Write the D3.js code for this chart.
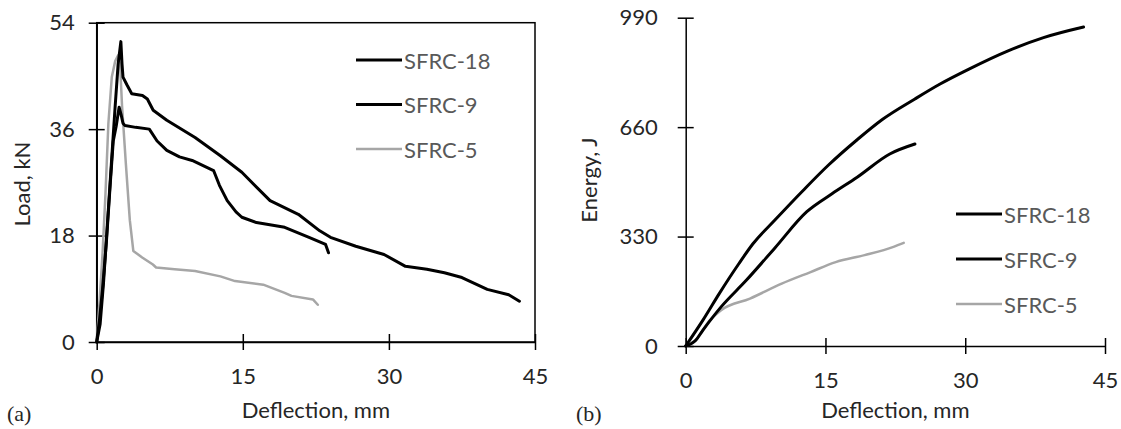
<!DOCTYPE html>
<html>
<head>
<meta charset="utf-8">
<script src="https://cdn.jsdelivr.net/npm/d3@7"></script>
<style>
  html, body { margin: 0; padding: 0; background: #fff; }
  svg text { font-family: Lato, "Open Sans", sans-serif; }
</style>
</head>
<body>
<svg id="chart" width="1121" height="429"></svg>
<script>
// ---------- data ----------
const seriesNames = ["SFRC-18", "SFRC-9", "SFRC-5"];

// (a) Load (kN) vs deflection (mm)
const loadDefl18 = [0, 0.35, 0.7, 1.1, 1.5, 1.9, 2.2, 2.48, 2.6, 2.7, 3.1, 3.6, 4.7, 5.2, 5.8, 7.2, 10.1, 12.7, 14.9, 17.8, 20.7, 22.9, 24.0, 26.6, 29.5, 31.7, 33.9, 35.7, 37.5, 40.1, 42.3, 43.4];
const load18     = [0, 3, 10, 20, 30, 40, 47, 50.8, 47, 44.8, 43.5, 42, 41.7, 41.1, 39.2, 37.5, 34.6, 31.5, 28.7, 23.9, 21.6, 18.8, 17.7, 16.2, 14.8, 12.8, 12.3, 11.7, 10.9, 8.9, 8.0, 6.9];

const loadDefl9 = [0, 0.3, 0.6, 1.0, 1.4, 1.7, 2.0, 2.3, 2.5, 2.7, 2.9, 4.0, 5.4, 6.2, 7.2, 8.5, 9.8, 12.0, 12.6, 13.4, 14.3, 14.9, 16.4, 19.3, 21.8, 23.5, 23.8];
const load9     = [0, 4, 9, 17, 27, 34, 36.5, 39.7, 38.5, 37, 36.6, 36.3, 36, 34, 32.4, 31.3, 30.7, 29, 26.5, 23.9, 22, 21.1, 20.2, 19.4, 17.7, 16.5, 15.1];

const loadDefl5 = [0, 0.3, 0.6, 0.9, 1.2, 1.55, 1.9, 2.2, 2.4, 2.6, 3.0, 3.4, 3.76, 4.67, 5.77, 6.1, 8.0, 10.1, 12.7, 14.2, 17.1, 19.3, 20.0, 22.2, 22.7];
const load5     = [0, 7, 15, 25, 37, 44.8, 47.5, 48.5, 47, 40, 30, 20.6, 15.4, 14.3, 13.1, 12.6, 12.3, 12, 11.1, 10.3, 9.7, 8.3, 7.8, 7.2, 6.3];

// (b) Energy (J) vs deflection (mm)
const enDefl18 = [0, 1.85, 3.6, 5.7, 7.24, 9.55, 12.6, 15.3, 18.4, 21.1, 24.6, 27.3, 30.4, 34.6, 38.4, 42.7];
const energy18 = [0, 78, 158, 248, 309, 379, 469, 545, 622, 683, 745, 790, 835, 890, 930, 962];

const enDefl9 = [0, 1.0, 1.85, 3.8, 6.5, 9.55, 13.0, 15.7, 18.4, 21.9, 24.6];
const energy9 = [0, 15, 48, 118, 198, 295, 405, 459, 509, 579, 609];

const enDefl5 = [0, 1.08, 2.6, 3.8, 6.9, 10.3, 13.4, 16.1, 19.2, 22.3, 23.4];
const energy5 = [0, 18, 78, 108, 143, 188, 223, 253, 274, 299, 311];

const xTicks = [0, 15, 30, 45];
const loadTicks = [0, 18, 36, 54];
const energyTicks = [0, 330, 660, 990];

// ---------- drawing ----------
const svg = d3.select("#chart");
const colors = ["#000000", "#000000", "#a6a6a6"];
const widths = [3, 3, 2.5];
const textColor = "#262626";
const fs = 22;

function panel(opt) {
  const x = d3.scaleLinear().domain([0, 45]).range([opt.x0, opt.x1]);
  const y = d3.scaleLinear().domain([0, opt.ymax]).range([opt.y0, opt.y1]);
  const g = svg.append("g");

  if (opt.box) {
    g.append("rect").attr("x", opt.x0).attr("y", opt.y1)
      .attr("width", opt.x1 - opt.x0).attr("height", opt.y0 - opt.y1)
      .attr("fill", "none").attr("stroke", "#000").attr("stroke-width", 1.5);
  }
  const xa = g.append("g").attr("transform", `translate(0,${opt.y0})`)
    .call(d3.axisBottom(x).tickValues(xTicks).tickSize(8).tickSizeOuter(0).tickPadding(18).tickFormat(d3.format("d")));
  const ya = g.append("g").attr("transform", `translate(${opt.x0},0)`)
    .call(d3.axisLeft(y).tickValues(opt.ticks).tickSize(8).tickSizeOuter(0).tickPadding(opt.yPad).tickFormat(d3.format("d")));
  [xa, ya].forEach(a => {
    a.select(".domain").attr("stroke", "#000").attr("stroke-width", 1.5);
    a.selectAll(".tick line").attr("stroke", "#000").attr("stroke-width", 1.5);
    a.selectAll("text").attr("font-size", fs).attr("fill", textColor).attr("font-family", "Lato");
  });
  xa.selectAll(".tick line").attr("y1", -8).attr("y2", 8);
  ya.selectAll(".tick line").attr("x1", -8).attr("x2", 8);

  const line = d3.line().x(d => x(d[0])).y(d => y(d[1]));
  if (opt.curve) line.curve(d3.curveMonotoneX);
  [2, 1, 0].forEach(i => {
    const pts = opt.xs[i].map((v, k) => [v, opt.ys[i][k]]);
    g.append("path").datum(pts).attr("d", line)
      .attr("fill", "none").attr("stroke", colors[i]).attr("stroke-width", widths[i])
      .attr("stroke-linejoin", "round").attr("stroke-linecap", "round");
  });

  seriesNames.forEach((n, i) => {
    const ly = opt.legY + i * opt.legDy;
    g.append("line").attr("x1", opt.legX).attr("x2", opt.legX + 46)
      .attr("y1", ly).attr("y2", ly)
      .attr("stroke", colors[i]).attr("stroke-width", widths[i]);
    g.append("text").attr("x", opt.legX + 48).attr("y", ly)
      .attr("dominant-baseline", "central")
      .attr("font-size", fs).attr("fill", "#595959").text(n);
  });

  g.append("text").attr("x", (opt.x0 + opt.x1) / 2).attr("y", 418)
    .attr("text-anchor", "middle").attr("font-size", fs).attr("fill", textColor)
    .text("Deflection, mm");
  g.append("text")
    .attr("transform", `translate(${opt.ytX},${opt.ytY}) rotate(-90)`)
    .attr("text-anchor", "middle").attr("font-size", fs).attr("fill", textColor)
    .text(opt.ytitle);
  g.append("text").attr("x", opt.labX).attr("y", 421)
    .attr("font-size", 22).attr("fill", textColor)
    .style("font-family", "'Liberation Serif', 'DejaVu Serif', serif")
    .text(opt.lab);
}

panel({
  x0: 96.7, x1: 535, y0: 342, y1: 22.7, ymax: 54, ticks: loadTicks, box: true, yPad: 14,
  xs: [loadDefl18, loadDefl9, loadDefl5], ys: [load18, load9, load5],
  legX: 356, legY: 60, legDy: 44.5,
  ytitle: "Load, kN", ytX: 30, ytY: 184, lab: "(a)", labX: 7, curve: false
});

panel({
  x0: 685.7, x1: 1105, y0: 346, y1: 17.7, ymax: 990, ticks: energyTicks, box: false, yPad: 20,
  xs: [enDefl18, enDefl9, enDefl5], ys: [energy18, energy9, energy5],
  legX: 956, legY: 214, legDy: 45,
  ytitle: "Energy, J", ytX: 597, ytY: 180, lab: "(b)", labX: 576, curve: true
});
</script>
</body>
</html>
